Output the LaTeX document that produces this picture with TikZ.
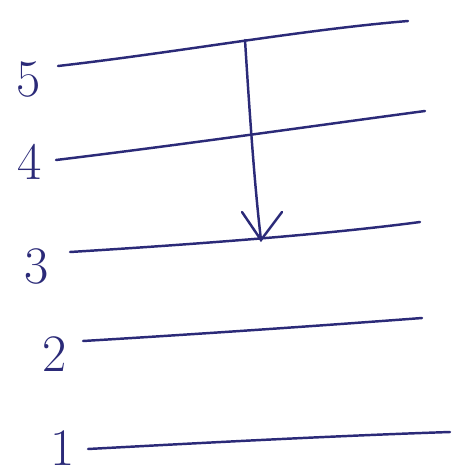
\documentclass[tikz,border=0pt]{standalone}
\usepackage{tikz}
\begin{document}
\begin{tikzpicture}[x=0.02cm,y=-0.02cm]
\definecolor{ink}{HTML}{2B2A78}
\tikzset{level/.style={draw=ink,line width=1.4pt,line cap=round},
  lbl/.style={text=ink,font=\fontsize{30}{30}\selectfont,inner sep=0pt}}
\useasboundingbox (0,0) rectangle (453,473);
% levels
\draw[level] (58,66) .. controls (180,52) and (300,30) .. (408,21);
\draw[level] (56,160) .. controls (180,145) and (320,125) .. (425,111);
\draw[level] (70,252) .. controls (200,244) and (330,234) .. (420,222);
\draw[level] (83,341) .. controls (200,334) and (330,325) .. (422,318);
\draw[level] (88,449) .. controls (200,443) and (330,436) .. (450,432);
% labels
\node[lbl] (n5) at (29,80) {5};
\node[lbl] (n4) at (30,162) {4};
\node[lbl] (n3) at (37,266) {3};
\node[lbl] (n2) at (55,354) {2};
\node[lbl] (n1) at (63,448) {1};
% arrow
\coordinate (a0) at (245,40);
\coordinate (a1) at (261,240);
\draw[level] (a0) .. controls (250,120) and (255,190) .. (a1);
\draw[level] (242,212) -- (a1) -- (282,212);
\end{tikzpicture}
\end{document}
